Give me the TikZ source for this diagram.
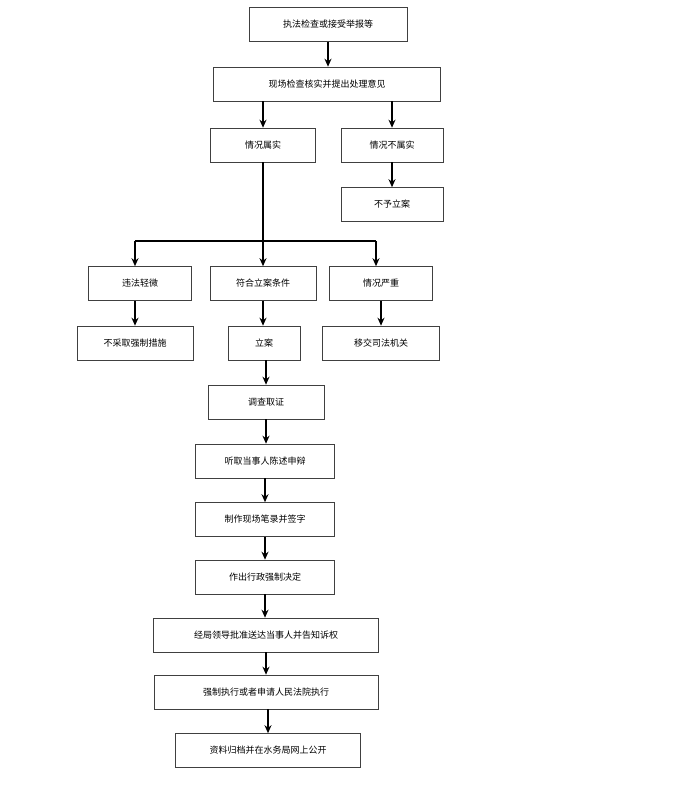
\documentclass[tikz,border=0pt]{standalone}
\usepackage{fontspec}
\newfontfamily\cjk{Noto Sans CJK SC}
\usetikzlibrary{arrows.meta}
\tikzset{
  box/.style={draw=black!75, line width=0.6pt, minimum height=34pt, inner sep=0pt,
    font=\cjk\fontsize{9}{9}\selectfont},
  arr/.style={line width=1.2pt, -{Stealth[length=8pt,width=7pt]}}
}

\begin{document}
\begin{tikzpicture}[x=1pt,y=1pt]
				\useasboundingbox (0,0) rectangle (675,-793);
				
				\node[box, minimum width=158pt] (n1) at (328,-24.5) {执法检查或接受举报等};
				\node[box, minimum width=227pt] (n2) at (327,-84) {现场检查核实并提出处理意见};
				\node[box, minimum width=105pt] (n3) at (263,-145) {情况属实};
				\node[box, minimum width=102pt] (n4) at (392,-145) {情况不属实};
				\node[box, minimum width=102pt] (n5) at (392,-204.5) {不予立案};
				
				\node[box, minimum width=103pt] (n6) at (140,-283.5) {违法轻微};
				\node[box, minimum width=106pt] (n7) at (263,-283.5) {符合立案条件};
				\node[box, minimum width=103pt] (n8) at (381,-283.5) {情况严重};
				\node[box, minimum width=116pt] (n9) at (135,-343) {不采取强制措施};
				\node[box, minimum width=72pt] (n10) at (264,-343) {立案};
				\node[box, minimum width=117pt] (n11) at (381,-343) {移交司法机关};
				
				\node[box, minimum width=116pt] (n12) at (266,-402) {调查取证};
				\node[box, minimum width=139pt] (n13) at (265,-461) {听取当事人陈述申辩};
				\node[box, minimum width=139pt] (n14) at (265,-519.5) {制作现场笔录并签字};
				\node[box, minimum width=139pt] (n15) at (265,-577) {作出行政强制决定};
				\node[box, minimum width=225pt] (n16) at (266,-635) {经局领导批准送达当事人并告知诉权};
				\node[box, minimum width=224pt] (n17) at (266,-692) {强制执行或者申请人民法院执行};
				\node[box, minimum width=185pt] (n18) at (268,-750.5) {资料归档并在水务局网上公开};
				
				% branch points
				\coordinate (bl) at (135,-241);
				\coordinate (bm) at (263,-241);
				\coordinate (br) at (376,-241);
				
				\draw[arr] (n1.south) -- (n1.south |- n2.north);
				\draw[arr] (n3 |- n2.south) -- (n3.north);
				\draw[arr] (n4 |- n2.south) -- (n4.north);
				\draw[arr] (n4) -- (n5);
				
				\draw[line width=1.2pt] (n3.south) -- (bm);
				\draw[line width=1.2pt] (bl) -- (br);
				\draw[arr] (bl) -- (bl |- n6.north);
				\draw[arr] (bm) -- (n7.north);
				\draw[arr] (br) -- (br |- n8.north);
				
				\draw[arr] (n9 |- n6.south) -- (n9.north);
				\draw[arr] (n7.south) -- (n7.south |- n10.north);
				\draw[arr] (n8) -- (n11);
				
				\draw[arr] (n12 |- n10.south) -- (n12.north);
				\draw[arr] (n12.south) -- (n12.south |- n13.north);
				\draw[arr] (n13) -- (n14);
				\draw[arr] (n14) -- (n15);
				\draw[arr] (n15.south) -- (n15.south |- n16.north);
				\draw[arr] (n16) -- (n17);
				\draw[arr] (n18 |- n17.south) -- (n18.north);
			\end{tikzpicture}
\end{document}
